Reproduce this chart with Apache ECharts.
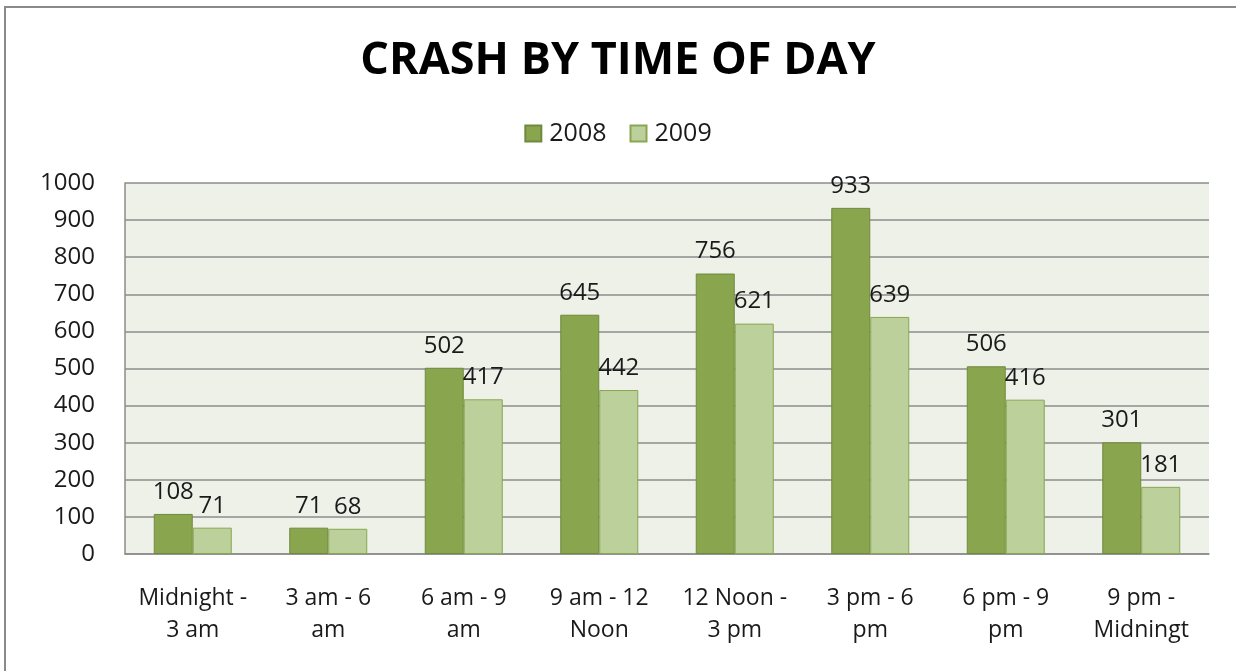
<!DOCTYPE html>
<html>
<head>
<meta charset="utf-8">
<script src="https://cdn.jsdelivr.net/npm/echarts@6/dist/echarts.min.js"></script>
<style>
html,body{margin:0;padding:0;background:#fff;}
#c{width:1236px;height:671px;}
</style>
</head>
<body>
<div id="c"></div>
<script>
var categories = ['Midnight -\n3 am', '3 am - 6\nam', '6 am - 9\nam', '9 am - 12\nNoon', '12 Noon -\n3 pm', '3 pm - 6\npm', '6 pm - 9\npm', '9 pm -\nMidningt'];
var values2008 = [108, 71, 502, 645, 756, 933, 506, 301];
var values2009 = [71, 68, 417, 442, 621, 639, 416, 181];
var yTicks = [0, 100, 200, 300, 400, 500, 600, 700, 800, 900, 1000];

var FONT = 'Open Sans';
var chart = echarts.init(document.getElementById('c'));
var labelStyle = {show: true, position: 'top', distance: 10, fontFamily: FONT, fontSize: 24, color: '#1a1a1a'};
chart.setOption({
  backgroundColor: '#ffffff',
  animation: false,
  title: {
    text: 'CRASH BY TIME OF DAY',
    left: 'center',
    top: 34,
    textStyle: {fontFamily: FONT, fontWeight: 'bold', fontSize: 45, color: '#000'}
  },
  legend: {
    top: 116,
    left: 'center',
    icon: 'rect',
    itemWidth: 16,
    itemHeight: 16,
    itemGap: 23,
    textStyle: {fontFamily: FONT, fontSize: 25, color: '#1a1a1a', padding: [0, 0, 0, 3]},
    data: ['2008', '2009']
  },
  graphic: [{
    type: 'polyline',
    shape: {points: [[5, 671], [5, 7], [1240, 7]]},
    style: {stroke: '#8a8a8a', lineWidth: 2, fill: null},
    silent: true
  }],
  grid: {
    left: 125, right: 27, top: 183, bottom: 117,
    show: true, backgroundColor: '#eef1e8', borderWidth: 0
  },
  xAxis: {
    type: 'category',
    data: categories,
    axisLine: {show: true, lineStyle: {color: '#8c8c8c', width: 1.5}},
    axisTick: {show: false},
    axisLabel: {fontFamily: FONT, fontSize: 23, color: '#1a1a1a', margin: 28, lineHeight: 32, interval: 0}
  },
  yAxis: {
    type: 'value',
    min: yTicks[0],
    max: yTicks[yTicks.length - 1],
    interval: yTicks[1] - yTicks[0],
    axisLine: {show: true, lineStyle: {color: '#8c8c8c', width: 1.5}},
    axisTick: {show: false},
    splitLine: {show: true, lineStyle: {color: '#8c8c8c', width: 1.5}},
    axisLabel: {fontFamily: FONT, fontSize: 24, color: '#1a1a1a', margin: 30, formatter: function (v) { return String(v); }}
  },
  series: [{
    name: '2008',
    type: 'bar',
    data: values2008,
    barWidth: 39,
    barGap: '0%',
    itemStyle: {color: '#89a54e', borderColor: '#71893f', borderWidth: 1},
    label: labelStyle
  }, {
    name: '2009',
    type: 'bar',
    data: values2009,
    barWidth: 39,
    itemStyle: {color: '#bbd09a', borderColor: '#8aa653', borderWidth: 1},
    label: labelStyle
  }]
});
</script>
</body>
</html>
